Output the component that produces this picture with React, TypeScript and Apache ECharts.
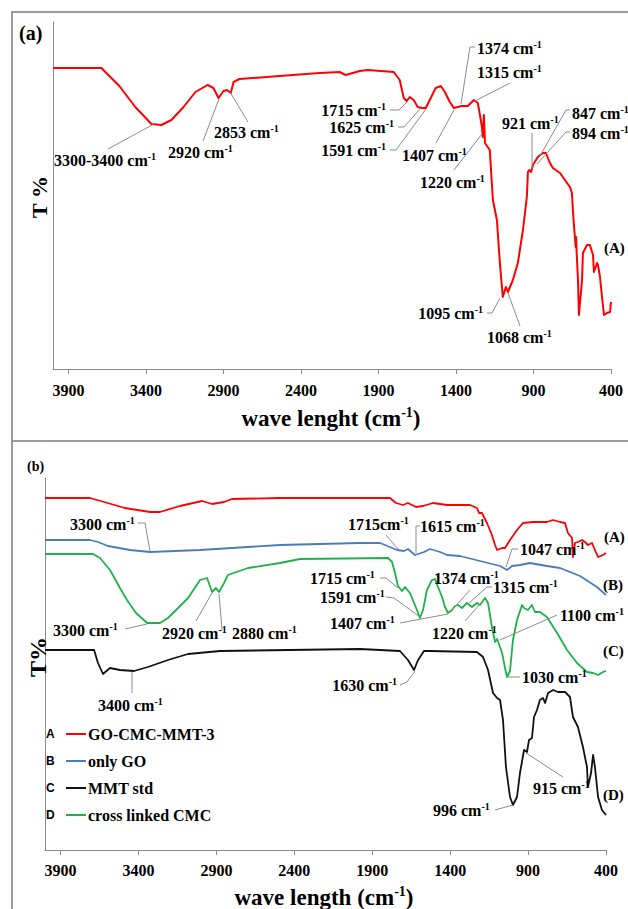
import React, { useEffect, useRef } from "react";
import * as echarts from "echarts";

// ---------- axis ticks ----------
const xTicks = [400, 900, 1400, 1900, 2400, 2900, 3400, 3900];

// ---------- panel (a): GO-CMC-MMT-3 ----------
const aWave = [4000, 3688, 3572, 3469, 3365, 3301, 3236, 3158, 3081, 3003, 2965, 2932, 2900, 2878, 2853, 2835, 2797, 2538, 2280, 2151, 2112, 2021, 1970, 1802, 1763, 1737, 1718, 1698, 1673, 1647, 1620, 1595, 1569, 1531, 1498, 1472, 1440, 1414, 1363, 1324, 1285, 1259, 1240, 1233, 1227, 1220, 1213, 1182, 1162, 1136, 1117, 1098, 1078, 1065, 1033, 1001, 968, 943, 936, 927, 915, 904, 872, 839, 820, 794, 775, 729, 697, 665, 652, 645, 633, 628, 625, 622, 613, 607, 587, 581, 555, 536, 516, 510, 490, 484, 471, 458, 445, 426, 406, 400];
const aT = [301, 301, 283, 262, 245, 244, 249, 262, 277, 284, 281, 271, 278, 279, 276, 287, 290, 293, 296, 297, 294, 298, 299, 297, 289, 271, 268, 272, 269, 262, 261, 261, 269, 281, 283, 277, 267, 261, 263, 263, 269, 266, 249, 242, 232, 254, 226, 219, 169, 149, 106, 72, 82, 77, 89, 106, 139, 172, 197, 199, 197, 204, 212, 216, 216, 206, 201, 196, 189, 182, 176, 156, 132, 122, 132, 118, 89, 54, 89, 116, 124, 124, 114, 97, 106, 104, 92, 72, 54, 56, 57, 67];

// ---------- panel (b) ----------
const bRedWave = [4000, 3711, 3621, 3487, 3326, 3262, 3134, 2992, 2928, 2851, 2800, 2492, 1786, 1748, 1703, 1671, 1619, 1574, 1510, 1420, 1273, 1228, 1215, 1196, 1164, 1132, 1112, 1099, 1067, 1048, 1016, 971, 933, 868, 779, 740, 695, 663, 644, 618, 612, 599, 580, 554, 535, 516, 490, 471, 451, 419, 400];
const bRedT = [352, 352, 348, 342, 338, 338, 344, 349, 346, 348, 351, 352, 352, 347, 345, 347, 343, 344, 347, 345, 345, 342, 337, 337, 327, 315, 305, 300, 302, 302, 310, 320, 327, 328, 328, 330, 328, 327, 317, 312, 293, 307, 308, 310, 308, 305, 307, 300, 293, 295, 297];

const bBlueWave = [4000, 3711, 3660, 3596, 3454, 3326, 3005, 2492, 1979, 1850, 1741, 1696, 1671, 1626, 1568, 1529, 1465, 1420, 1337, 1209, 1080, 1035, 1003, 952, 888, 779, 695, 567, 458, 400];
const bBlueT = [310, 310, 308, 304, 300, 298, 300, 305, 307, 307, 300, 299, 301, 295, 298, 301, 298, 295, 294, 289, 284, 280, 284, 285, 287, 284, 282, 274, 263, 255];

const bGreenWave = [4000, 3692, 3647, 3583, 3519, 3474, 3416, 3345, 3262, 3211, 3159, 3082, 3005, 2960, 2928, 2903, 2883, 2851, 2826, 2697, 2492, 2364, 1799, 1773, 1754, 1735, 1709, 1690, 1658, 1613, 1594, 1574, 1549, 1517, 1497, 1478, 1452, 1433, 1414, 1388, 1369, 1350, 1324, 1292, 1260, 1228, 1209, 1176, 1157, 1132, 1112, 1099, 1087, 1067, 1048, 1035, 1016, 997, 971, 939, 926, 901, 875, 856, 824, 779, 714, 650, 586, 522, 483, 451, 419, 400];
const bGreenT = [296, 296, 292, 280, 262, 250, 237, 227, 227, 232, 240, 252, 270, 272, 258, 262, 258, 267, 275, 282, 287, 291, 292, 288, 277, 264, 259, 263, 257, 240, 232, 240, 260, 270, 271, 263, 253, 243, 237, 240, 244, 245, 242, 247, 243, 247, 245, 252, 247, 223, 208, 211, 206, 197, 182, 173, 179, 210, 230, 245, 242, 240, 245, 238, 238, 233, 217, 200, 187, 178, 177, 175, 178, 179];

const bBlackWave = [4000, 3685, 3660, 3628, 3583, 3519, 3429, 3339, 3211, 3082, 2877, 1979, 1722, 1671, 1632, 1606, 1568, 1529, 1228, 1189, 1157, 1125, 1099, 1080, 1061, 1042, 1016, 997, 971, 952, 926, 907, 894, 875, 862, 843, 824, 804, 791, 772, 740, 708, 663, 631, 612, 580, 548, 522, 516, 496, 483, 471, 451, 426, 400];
const bBlackT = [200, 200, 187, 176, 182, 180, 179, 183, 190, 196, 199, 201, 199, 190, 180, 190, 199, 199, 198, 193, 180, 157, 152, 150, 130, 83, 53, 45, 53, 77, 100, 98, 110, 112, 133, 140, 150, 152, 147, 157, 160, 158, 158, 153, 133, 123, 103, 83, 63, 77, 95, 83, 53, 40, 35];

const legendLetters = ["A", "B", "C", "D"];
const legendNames = ["GO-CMC-MMT-3", "only GO", "MMT std", "cross linked CMC"];

const zip = (w: number[], t: number[]) => w.map((v, i) => [v, t[i]]);

// ---------- styles ----------
const SERIF = "'Liberation Serif', 'Times New Roman', serif";
const RED = "#ff0000";
const BLUE = "#4a7ebb";
const GREEN = "#1fb14a";
const BLACK = "#111111";
const LEADER = "#8c8c8c";
const AXIS = "#8a8a8a";

const rich = {
  n: { fontFamily: SERIF, fontWeight: "bold", fontSize: 16, fill: "#000", color: "#000", lineHeight: 18 },
  s: { fontFamily: SERIF, fontWeight: "bold", fontSize: 10, fill: "#000", color: "#000", lineHeight: 10, verticalAlign: "top" },
  big: { fontFamily: SERIF, fontWeight: "bold", fontSize: 23, fill: "#000", color: "#000", lineHeight: 26 },
  bigs: { fontFamily: SERIF, fontWeight: "bold", fontSize: 14, fill: "#000", color: "#000", lineHeight: 14, verticalAlign: "top" },
};

type Ann = { t: string; x: number; y: number; al: "left" | "right"; pts: number[][] };

const annA: Ann[] = [
  { t: "3300-3400 cm", x: 54, y: 160, al: "left", pts: [[108, 149], [154, 124]] },
  { t: "2920 cm", x: 168, y: 152, al: "left", pts: [[203, 141], [219, 99]] },
  { t: "2853 cm", x: 214, y: 132, al: "left", pts: [[248, 122], [230, 92]] },
  { t: "1715 cm", x: 386, y: 110, al: "right", pts: [[390, 110], [399, 110], [407, 102]] },
  { t: "1625 cm", x: 394, y: 127, al: "right", pts: [[398, 127], [404, 127], [420, 109]] },
  { t: "1591 cm", x: 386, y: 150, al: "right", pts: [[390, 150], [396, 150], [426, 109]] },
  { t: "1407 cm", x: 402, y: 155, al: "left", pts: [[436, 143], [454, 110]] },
  { t: "1220 cm", x: 420, y: 182, al: "left", pts: [[454, 170], [482, 134]] },
  { t: "1374 cm", x: 477, y: 48, al: "left", pts: [[475, 47], [470, 47], [461, 104]] },
  { t: "1315 cm", x: 477, y: 72, al: "left", pts: [[510, 83], [475, 101]] },
  { t: "847 cm", x: 572, y: 113, al: "left", pts: [[570, 110], [566, 110], [540, 156]] },
  { t: "894 cm", x: 572, y: 133, al: "left", pts: [[570, 132], [566, 132], [537, 164]] },
  { t: "921 cm", x: 502, y: 123, al: "left", pts: [[532, 133], [532, 169]] },
  { t: "1095 cm", x: 483, y: 313, al: "right", pts: [[487, 313], [492, 313], [500, 298]] },
  { t: "1068 cm", x: 487, y: 337, al: "left", pts: [[520, 326], [508, 293]] },
];

const annB: Ann[] = [
  { t: "3300 cm", x: 70, y: 524, al: "left", pts: [[138, 523], [145, 523], [150, 551]] },
  { t: "1715cm", x: 348, y: 524, al: "left", pts: [[386, 535], [398, 549]] },
  { t: "1615 cm", x: 420, y: 526, al: "left", pts: [[420, 526], [416, 526], [416, 553]] },
  { t: "1047 cm", x: 520, y: 549, al: "left", pts: [[518, 549], [512, 549], [506, 567]] },
  { t: "1715 cm", x: 310, y: 578, al: "left", pts: [[380, 578], [386, 578], [398, 588]] },
  { t: "1591 cm", x: 320, y: 597, al: "left", pts: [[386, 597], [394, 598], [420, 617]] },
  { t: "1374 cm", x: 434, y: 578, al: "left", pts: [[470, 590], [452, 610]] },
  { t: "1315 cm", x: 493, y: 587, al: "left", pts: [[492, 587], [487, 587], [468, 604]] },
  { t: "1407 cm", x: 330, y: 623, al: "left", pts: [[400, 623], [448, 614]] },
  { t: "1220 cm", x: 432, y: 633, al: "left", pts: [[465, 621], [480, 604]] },
  { t: "1100 cm", x: 560, y: 615, al: "left", pts: [[557, 615], [500, 640]] },
  { t: "1030 cm", x: 522, y: 677, al: "left", pts: [[507, 677], [520, 677]] },
  { t: "3300 cm", x: 53, y: 630, al: "left", pts: [[125, 629], [147, 624]] },
  { t: "2920 cm", x: 162, y: 633, al: "left", pts: [[196, 621], [212, 593]] },
  { t: "2880 cm", x: 232, y: 633, al: "left", pts: [[219, 594], [222, 630]] },
  { t: "3400 cm", x: 98, y: 705, al: "left", pts: [[132, 672], [132, 693]] },
  { t: "1630 cm", x: 397, y: 685, al: "right", pts: [[400, 685], [407, 682], [415, 671]] },
  { t: "996 cm", x: 433, y: 810, al: "left", pts: [[495, 810], [513, 805]] },
  { t: "915 cm", x: 533, y: 788, al: "left", pts: [[563, 777], [526, 753]] },
];

function textEl(x: number, y: number, text: string, opts: any = {}) {
  const align = opts.align || "left";
  const va = opts.va || "middle";
  return {
    type: "text",
    x,
    y,
    rotation: opts.rotation || 0,
    z: 20,
    silent: true,
    style: {
      text,
      rich,
      fill: "#000",
      font: opts.font || `bold 16px ${SERIF}`,
      align,
      verticalAlign: va,
      textAlign: align,
      textVerticalAlign: va,
    },
  };
}

function annEls(list: Ann[]) {
  const out: any[] = [];
  list.forEach((a) => {
    out.push({
      type: "polyline",
      z: 15,
      silent: true,
      shape: { points: a.pts },
      style: { stroke: LEADER, lineWidth: 1, fill: null },
    });
    out.push(textEl(a.x, a.y, `{n|${a.t}}{s|-1}`, { align: a.al }));
  });
  return out;
}

export default function App() {
  const ref = useRef<HTMLDivElement>(null);
  useEffect(() => {
    document.body.style.margin = "0";
    if (!ref.current) return;
    const chart = echarts.init(ref.current, null, { renderer: "svg" });

    const xAxisBase = (gridIndex: number, margin: number) => ({
      type: "value",
      gridIndex,
      min: 400,
      max: 4000,
      inverse: true,
      axisLine: { show: true, onZero: false, lineStyle: { color: AXIS, width: 1 } },
      axisTick: { show: true, inside: false, length: 5, customValues: xTicks, lineStyle: { color: AXIS, width: 1 } },
      axisLabel: {
        show: true,
        customValues: xTicks,
        formatter: (v: number) => String(v),
        margin,
        color: "#000",
        fontFamily: SERIF,
        fontWeight: "bold",
        fontSize: 16,
      },
      splitLine: { show: false },
    });
    const yAxisBase = (gridIndex: number, max: number) => ({
      type: "value",
      gridIndex,
      min: 0,
      max,
      axisLine: { show: true, lineStyle: { color: AXIS, width: 1 } },
      axisTick: { show: false },
      axisLabel: { show: false },
      splitLine: { show: false },
    });
    const lineSeries = (name: string, data: number[][], color: string, idx: number, width: number) => ({
      name,
      type: "line",
      xAxisIndex: idx,
      yAxisIndex: idx,
      data,
      showSymbol: false,
      symbol: "none",
      silent: true,
      lineStyle: { color, width, join: "round" },
      z: 5,
    });

    const legendEls: any[] = [];
    const legendColors = [RED, BLUE, BLACK, GREEN];
    legendLetters.forEach((L, i) => {
      const y = 734 + i * 27;
      legendEls.push(textEl(46, y, L, { font: `bold 12px 'Liberation Sans', Arial, sans-serif` }));
      legendEls.push({
        type: "line",
        silent: true,
        shape: { x1: 66, y1: y, x2: 86, y2: y },
        style: { stroke: legendColors[i], lineWidth: 2 },
      });
      legendEls.push(textEl(88, y, legendNames[i], { font: `bold 16px ${SERIF}` }));
    });

    const option: any = {
      animation: false,
      backgroundColor: "#ffffff",
      textStyle: { fontFamily: SERIF },
      grid: [
        { left: 53, top: 22, width: 558, height: 347, containLabel: false, outerBoundsMode: "none" },
        { left: 45, top: 478, width: 561, height: 372, containLabel: false, outerBoundsMode: "none" },
      ],
      xAxis: [xAxisBase(0, 13), xAxisBase(1, 12)],
      yAxis: [yAxisBase(0, 347), yAxisBase(1, 372)],
      series: [
        lineSeries("GO-CMC-MMT-3 (a)", zip(aWave, aT), RED, 0, 2),
        lineSeries("GO-CMC-MMT-3", zip(bRedWave, bRedT), RED, 1, 1.8),
        lineSeries("only GO", zip(bBlueWave, bBlueT), BLUE, 1, 1.8),
        lineSeries("cross linked CMC", zip(bGreenWave, bGreenT), GREEN, 1, 1.8),
        lineSeries("MMT std", zip(bBlackWave, bBlackT), BLACK, 1, 1.8),
      ],
      graphic: {
        elements: [
          {
            type: "rect",
            silent: true,
            shape: { x: 12, y: 12, width: 660, height: 940 },
            style: { stroke: "#7a7a7a", lineWidth: 1.5, fill: null },
          },
          {
            type: "line",
            silent: true,
            shape: { x1: 12, y1: 441, x2: 640, y2: 441 },
            style: { stroke: "#7a7a7a", lineWidth: 1.5 },
          },
          textEl(19, 33, "(a)", { font: `bold 20px ${SERIF}` }),
          textEl(27, 466, "(b)", { font: `bold 14px ${SERIF}` }),
          textEl(39, 197, "T %", { align: "center", rotation: Math.PI / 2, font: `bold 22px ${SERIF}` }),
          textEl(38, 657, "T%", { align: "center", rotation: Math.PI / 2, font: `bold 24px ${SERIF}` }),
          textEl(331, 418, "{big|wave lenght (cm}{bigs|-1}{big|)}", { align: "center" }),
          textEl(324, 897, "{big|wave length (cm}{bigs|-1}{big|)}", { align: "center" }),
          textEl(604, 248, "(A)", { font: `bold 15px ${SERIF}` }),
          textEl(604, 537, "(A)", { font: `bold 15px ${SERIF}` }),
          textEl(603, 585, "(B)", { font: `bold 15px ${SERIF}` }),
          textEl(603, 651, "(C)", { font: `bold 15px ${SERIF}` }),
          textEl(603, 795, "(D)", { font: `bold 15px ${SERIF}` }),
          ...annEls(annA),
          ...annEls(annB),
          ...legendEls,
        ],
      },
    };
    chart.setOption(option);
    return () => chart.dispose();
  }, []);
  return <div ref={ref} style={{ width: 628, height: 909 }} />;
}
